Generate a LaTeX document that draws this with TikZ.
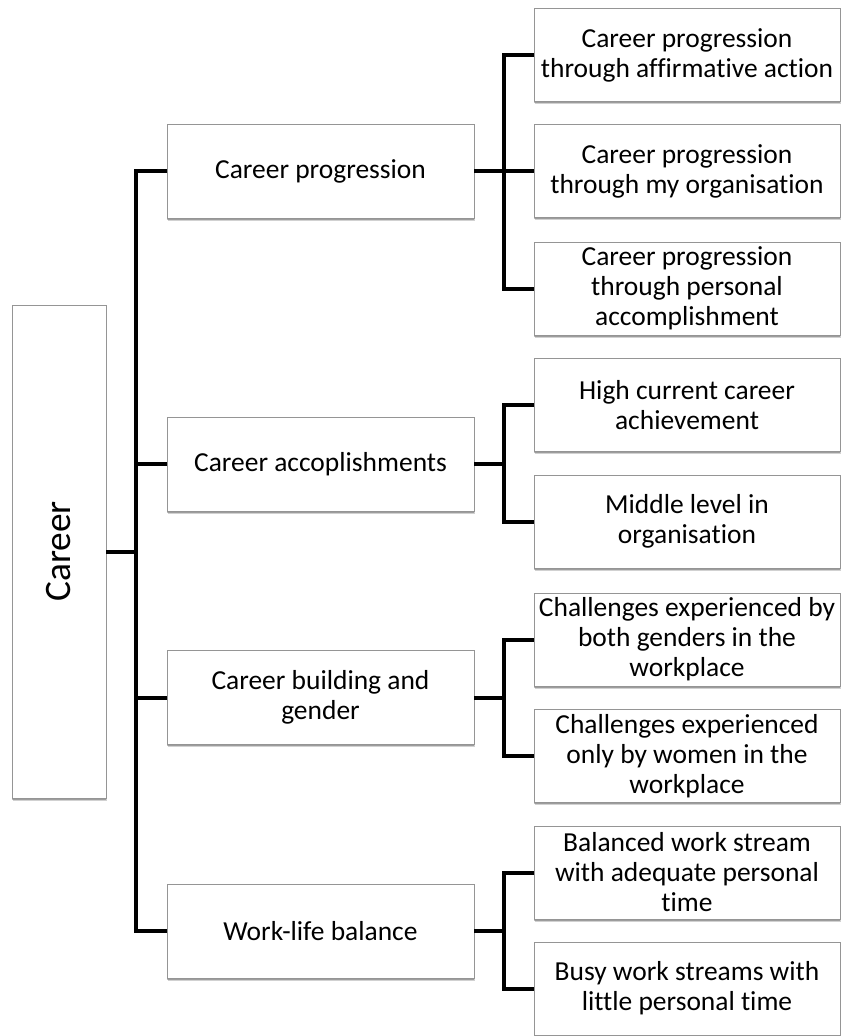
\documentclass[tikz,border=0pt]{standalone}
\usepackage{fontspec}
\setmainfont{Carlito}[Ligatures=NoCommon]
\usetikzlibrary{shadows}
\definecolor{boxline}{HTML}{959595}
\tikzset{
  conn/.style={line width=3pt, black},
  box/.style={draw=boxline, line width=0.75pt, fill=white, inner sep=0pt, outer sep=0pt,
    align=center, font=\fontsize{20.6}{22.5}\selectfont,
    drop shadow={shadow xshift=0.6pt, shadow yshift=-2.2pt, opacity=0.18, fill=black},
    drop shadow={shadow xshift=0.3pt, shadow yshift=-1.2pt, opacity=0.25, fill=black}},
  lvlone/.style={box, minimum width=230.25pt, minimum height=70.5pt},
  lvltwo/.style={box, minimum width=229.5pt, minimum height=69.75pt},
}
\begin{document}
\begin{tikzpicture}[x=0.75pt, y=-0.75pt]
\useasboundingbox (0,0) rectangle (842,1036);

% root
\node[box, minimum width=70.5pt, minimum height=369.75pt] (career) at (59,551.5)
  {\rotatebox{90}{\fontsize{28}{34}\selectfont Career}};

% first level
\node[lvlone] (cp) at (320.5,171)   {Career progression};
\node[lvlone] (ca) at (320.5,464)   {Career accoplishments};
\node[lvlone] (cb) at (320.5,697.5) {Career building and\\gender};
\node[lvlone] (wl) at (320.5,931)   {Work-life balance};

% second level
\node[lvltwo] (cp1) at (687,55)    {Career progression\\through affirmative action};
\node[lvltwo] (cp2) at (687,171)   {Career progression\\through my organisation};
\node[lvltwo] (cp3) at (687,288.5) {Career progression\\through personal\\accomplishment};
\node[lvltwo] (ca1) at (687,405)   {High current career\\achievement};
\node[lvltwo] (ca2) at (687,521.5) {Middle level in\\organisation};
\node[lvltwo] (cb1) at (687,639.5) {Challenges experienced by\\both genders in the\\workplace};
\node[lvltwo] (cb2) at (687,756)   {Challenges experienced\\only by women in the\\workplace};
\node[lvltwo] (wl1) at (687,872.5) {Balanced work stream\\with adequate personal\\time};
\node[lvltwo] (wl2) at (687,988.5) {Busy work streams with\\little personal time};

% junction points
\coordinate (jt)  at (136,551.5);
\coordinate (bcp) at (504,171);
\coordinate (bca) at (504,464);
\coordinate (bcb) at (504,697.5);
\coordinate (bwl) at (504,931);

% root trunk
\draw[conn] (career.east) -- (jt);
\draw[conn] (cp.west) -| (jt) |- (wl.west);
\draw[conn] (ca.west) -- (ca.west -| jt);
\draw[conn] (cb.west) -- (cb.west -| jt);

% brackets to second level
\draw[conn] (cp.east) -- (cp2.west);
\draw[conn] (cp1.west) -| (bcp) |- (cp3.west);
\draw[conn] (ca.east) -- (bca);
\draw[conn] (ca1.west) -| (bca) |- (ca2.west);
\draw[conn] (cb.east) -- (bcb);
\draw[conn] (cb1.west) -| (bcb) |- (cb2.west);
\draw[conn] (wl.east) -- (bwl);
\draw[conn] (wl1.west) -| (bwl) |- (wl2.west);
\end{tikzpicture}
\end{document}
